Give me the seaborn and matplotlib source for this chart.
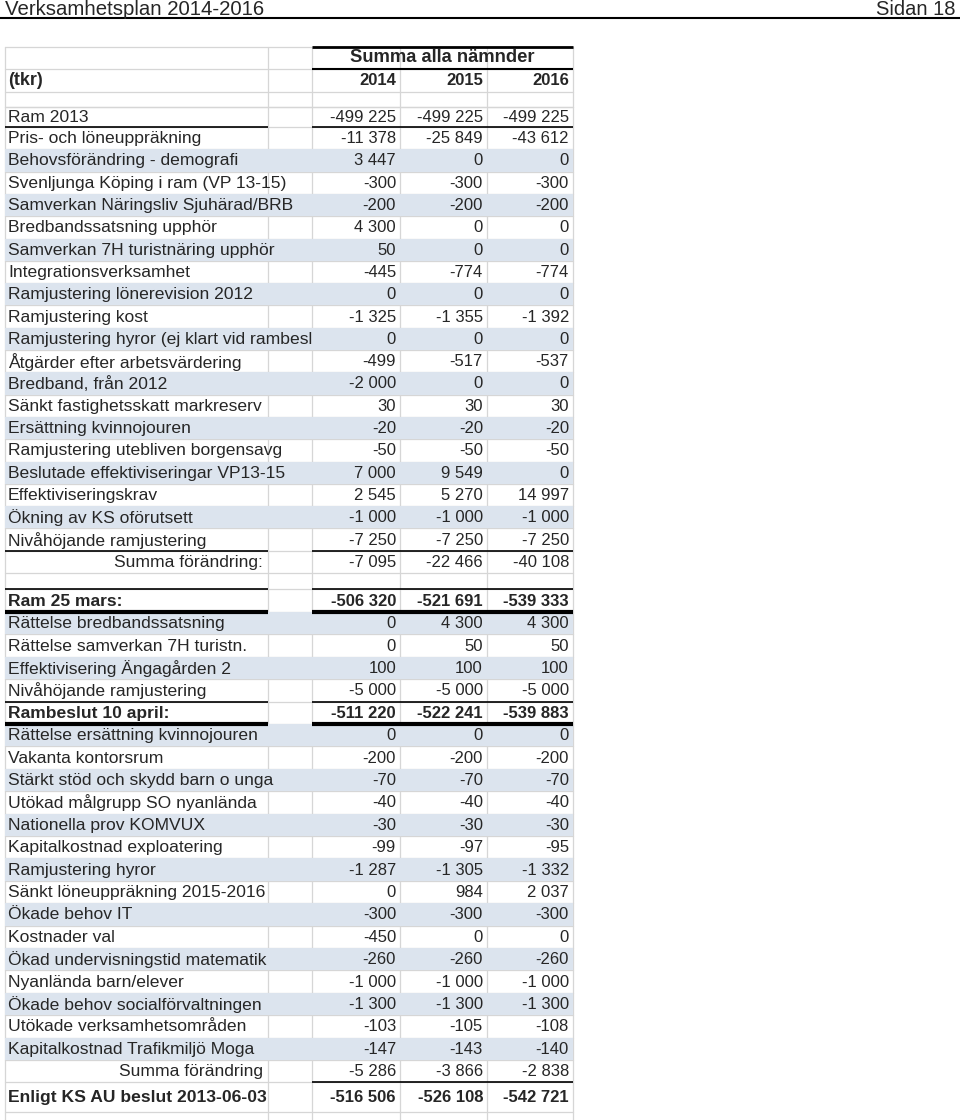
"""
Verksamhetsplan 2014-2016, sidan 18: ramtabell för alla nämnder
"""

import matplotlib
matplotlib.use("Agg")
import matplotlib.pyplot as plt
import seaborn as sns
import numpy as np
from matplotlib.transforms import Bbox, TransformedBbox

# ---- Data ----
title_left = "Verksamhetsplan 2014-2016"
title_right = "Sidan 18"
group_header = "Summa alla nämnder"
unit_label = "(tkr)"
years = ["2014", "2015", "2016"]

labels = [
    "Ram 2013",
    "Pris- och löneuppräkning",
    "Behovsförändring - demografi",
    "Svenljunga Köping i ram (VP 13-15)",
    "Samverkan Näringsliv Sjuhärad/BRB",
    "Bredbandssatsning upphör",
    "Samverkan 7H turistnäring upphör",
    "Integrationsverksamhet",
    "Ramjustering lönerevision 2012",
    "Ramjustering kost",
    "Ramjustering hyror (ej klart vid rambeslut)",
    "Åtgärder efter arbetsvärdering",
    "Bredband, från 2012",
    "Sänkt fastighetsskatt markreserv",
    "Ersättning kvinnojouren",
    "Ramjustering utebliven borgensavg",
    "Beslutade effektiviseringar VP13-15",
    "Effektiviseringskrav",
    "Ökning av KS oförutsett",
    "Nivåhöjande ramjustering",
    "Summa förändring:",
    "",
    "Ram 25 mars:",
    "Rättelse bredbandssatsning",
    "Rättelse samverkan 7H turistn.",
    "Effektivisering Ängagården 2",
    "Nivåhöjande ramjustering",
    "Rambeslut 10 april:",
    "Rättelse ersättning kvinnojouren",
    "Vakanta kontorsrum",
    "Stärkt stöd och skydd barn o unga",
    "Utökad målgrupp SO nyanlända",
    "Nationella prov KOMVUX",
    "Kapitalkostnad exploatering",
    "Ramjustering hyror",
    "Sänkt löneuppräkning 2015-2016",
    "Ökade behov IT",
    "Kostnader val",
    "Ökad undervisningstid matematik",
    "Nyanlända barn/elever",
    "Ökade behov socialförvaltningen",
    "Utökade verksamhetsområden",
    "Kapitalkostnad Trafikmiljö Moga",
    "Summa förändring",
    "Enligt KS AU beslut 2013-06-03",
]

v2014 = [-499225, -11378, 3447, -300, -200, 4300, 50, -445, 0, -1325, 0, -499,
         -2000, 30, -20, -50, 7000, 2545, -1000, -7250, -7095, np.nan,
         -506320, 0, 0, 100, -5000, -511220,
         0, -200, -70, -40, -30, -99, -1287, 0, -300, -450, -260, -1000,
         -1300, -103, -147, -5286, -516506]
v2015 = [-499225, -25849, 0, -300, -200, 0, 0, -774, 0, -1355, 0, -517,
         0, 30, -20, -50, 9549, 5270, -1000, -7250, -22466, np.nan,
         -521691, 4300, 50, 100, -5000, -522241,
         0, -200, -70, -40, -30, -97, -1305, 984, -300, 0, -260, -1000,
         -1300, -105, -143, -3866, -526108]
v2016 = [-499225, -43612, 0, -300, -200, 0, 0, -774, 0, -1392, 0, -537,
         0, 30, -20, -50, 0, 14997, -1000, -7250, -40108, np.nan,
         -539333, 4300, 50, 100, -5000, -539883,
         0, -200, -70, -40, -30, -95, -1332, 2037, -300, 0, -260, -1000,
         -1300, -108, -140, -2838, -542721]

# ---- Stil / layout ----
bold_rows = ["Ram 25 mars:", "Rambeslut 10 april:", "Enligt KS AU beslut 2013-06-03"]
right_rows = ["Summa förändring:", "Summa förändring"]
shaded_rows = [2, 4, 6, 8, 10, 12, 14, 16, 18,
               23, 25, 28, 30, 32, 34, 36, 38, 40, 42]

row_heights = [20] + [22.3] * 20 + [16, 23] + [22.4] * 5 + [22.4] * 16 + [30]
col_edges = [5, 268, 312, 400, 487, 573]
shade_color = "#dce4ee"
grid_color = "#d6d6d6"
label_size = 12.6
num_size = 12
bold_label_size = 12.6


def fmt(v):
    """Tusentalsavgränsning med mellanslag"""
    s = f"{abs(int(v)):,}".replace(",", " ")
    return ("-" if v < 0 else "") + s


sns.set_theme(style="white")
plt.rcParams['font.family'] = ['Liberation Sans', 'DejaVu Sans']

fig = plt.figure(figsize=(9.6, 11.2), dpi=100)
ax = fig.add_axes([0, 0, 1, 1])
ax.set_xlim(0, 960)
ax.set_ylim(1120, 0)
ax.axis('off')

# Sidhuvud
ax.text(5, 15, title_left, fontsize=14.7, ha='left', va='baseline')
ax.text(955, 15, title_right, fontsize=14.5, ha='right', va='baseline')
ax.plot([0, 960], [17.5, 17.5], color='black', lw=1.5)

# Radpositioner
body_top = 107
edges = body_top + np.concatenate([[0], np.cumsum(row_heights)])
centers = (edges[:-1] + edges[1:]) / 2
heights = np.diff(edges)
header_edges = [47, 69, 92, 107]

# Stödlinjer (grå)
for x in col_edges:
    ax.plot([x, x], [47, 1120], color=grid_color, lw=0.9, zorder=1)
for y in list(header_edges) + list(edges):
    ax.plot([col_edges[0], col_edges[-1]], [y, y], color=grid_color, lw=0.9, zorder=1)

# Skuggade rader
idx = np.array(shaded_rows)
ax.barh(centers[idx], width=col_edges[-1] - col_edges[0], left=col_edges[0],
        height=heights[idx], color=shade_color, edgecolor='none', zorder=2)


# Svarta linjer
def black_line(y, lw, label_col=True):
    if label_col:
        ax.plot([col_edges[0], col_edges[1]], [y, y], color='black', lw=lw, zorder=3,
                solid_capstyle='butt')
    ax.plot([col_edges[2], col_edges[-1]], [y, y], color='black', lw=lw, zorder=3,
            solid_capstyle='butt')


black_line(47, 2.0, label_col=False)
black_line(69, 1.5, label_col=False)
black_line(edges[1], 1.2)
black_line(edges[labels.index("Summa förändring:")], 1.2)
black_line(edges[labels.index("Ram 25 mars:")], 1.2)
black_line(edges[labels.index("Ram 25 mars:") + 1], 3.0)
black_line(edges[labels.index("Rambeslut 10 april:")], 1.2)
black_line(edges[labels.index("Rambeslut 10 april:") + 1], 3.0)
black_line(edges[labels.index("Enligt KS AU beslut 2013-06-03")], 1.2, label_col=False)

# Rubriker
ax.text((col_edges[2] + col_edges[-1]) / 2, 58, group_header, fontsize=13.2,
        fontweight='bold', ha='center', va='center', zorder=4)
ax.text(8, 80.5, unit_label, fontsize=13, fontweight='bold',
        ha='left', va='center', zorder=4)
for j, yr in enumerate(years):
    ax.text(col_edges[j + 3] - 4, 80.5, yr, fontsize=num_size, fontweight='bold',
            ha='right', va='center', zorder=4)

# Tabellinnehåll
for i, lab in enumerate(labels):
    yc = centers[i] + 0.5
    is_bold = lab in bold_rows
    weight = 'bold' if is_bold else 'normal'
    if lab in right_rows:
        ax.text(col_edges[1] - 5, yc, lab, fontsize=label_size, ha='right',
                va='center', zorder=4)
    else:
        t = ax.text(8, yc, lab, fontsize=bold_label_size if is_bold else label_size,
                    fontweight=weight, ha='left', va='center', zorder=4)
        # text som inte ryms klipps vid tredje kolumnen
        box = Bbox.from_extents(col_edges[0], edges[i], col_edges[2], edges[i + 1])
        t.set_clip_box(TransformedBbox(box, ax.transData))
        t.set_clip_on(True)
    for j, vals in enumerate([v2014, v2015, v2016]):
        v = vals[i]
        if np.isnan(v):
            continue
        ax.text(col_edges[j + 3] - 4, yc, fmt(v), fontsize=num_size,
                fontweight=weight, ha='right', va='center', zorder=4)

fig.savefig("out.png", dpi=100)
